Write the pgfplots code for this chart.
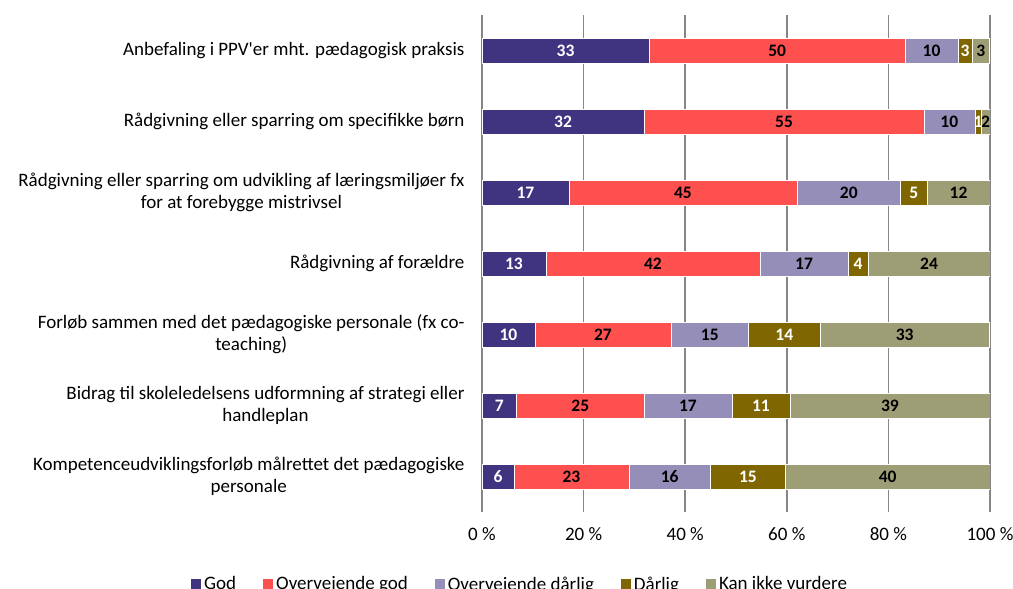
\documentclass[border=0pt]{standalone}
\usepackage{pgfplots}
\pgfplotsset{compat=1.18}
\usepackage{pgfplotstable}
\usepackage{fontspec}
\setmainfont{Carlito}

\definecolor{cgod}{RGB}{64,51,128}
\definecolor{covgod}{RGB}{255,80,80}
\definecolor{covdar}{RGB}{148,142,184}
\definecolor{cdar}{RGB}{127,102,0}
\definecolor{ckan}{RGB}{158,158,118}
\definecolor{cgrid}{RGB}{134,134,134}

% shares in percent, one row per category (top to bottom)
\pgfplotstableread{
row god ovgod ovdar darlig kan
1 32.9 50.4 10.4 2.8 3.4
2 31.9 55.1 10.0 1.3 1.7
3 17.1 44.9 20.4 5.2 12.4
4 12.6 42.1 17.4 3.9 24.0
5 10.4 26.8 15.3 14.0 33.4
6 6.8 25.1 17.3 11.4 39.4
7 6.3 22.6 16.1 14.7 40.3
}\datatable

\pgfplotsset{
  sq legend/.style={legend image code/.code={\fill[##1,draw=none] (0pt,-5pt) rectangle (10pt,5pt);}},
}

\begin{document}
\begin{tikzpicture}
\begin{axis}[
  name=ax,
  scale only axis,
  width=508pt, height=497pt,
  xbar stacked,
  bar width=25pt,
  xmin=0, xmax=100,
  ymin=0.5, ymax=7.5,
  y dir=reverse,
  axis y line*=left,
  axis x line*=bottom,
  x axis line style={draw=none},
  y axis line style={cgrid, line width=1.5pt},
  /pgf/number format/assume math mode=true,
  xtick={0,20,...,100},
  xticklabels={0 \%,20 \%,40 \%,60 \%,80 \%,100 \%},
  xtick style={draw=none},
  ytick={1,...,7},
  ytick style={draw=none},
  yticklabels={
    {Anbefaling i PPV\textquotesingle er mht. pædagogisk praksis},
    {Rådgivning eller sparring om specifikke børn},
    {Rådgivning eller sparring om udvikling af læringsmiljøer fx\\for at forebygge mistrivsel},
    {Rådgivning af forældre},
    {Forløb sammen med det pædagogiske personale (fx co-\\teaching)},
    {Bidrag til skoleledelsens udformning af strategi eller\\handleplan},
    {Kompetenceudviklingsforløb målrettet det pædagogiske\\personale}},
  yticklabel style={align=center, xshift=-14pt, font=\fontsize{19}{22}\selectfont},
  xticklabel style={yshift=-12pt, font=\fontsize{19}{22}\selectfont},
  xmajorgrids,
  major grid style={cgrid, line width=1.5pt},
  point meta=explicit,
  nodes near coords={\pgfmathprintnumber[fixed,precision=0]{\pgfplotspointmeta}},
  every node near coord/.append style={anchor=center,
    font=\fontsize{17.5}{20}\selectfont\bfseries},
  legend columns=5,
  legend style={at={(0.075,-0.145)}, anchor=center, draw=none,
    font=\fontsize{19}{22}\selectfont,
    /tikz/every even column/.append style={column sep=25pt},
    /tikz/every odd column/.append style={column sep=1pt}},
]
\addplot[fill=cgod, draw=white, line width=0.4pt, sq legend,
  every node near coord/.append style={text=white}]
  table[x=god, y=row, meta=god] {\datatable};
\addlegendentry{God}
\addplot[fill=covgod, draw=white, line width=0.4pt, sq legend,
  every node near coord/.append style={text=black}]
  table[x=ovgod, y=row, meta=ovgod] {\datatable};
\addlegendentry{Overvejende god}
\addplot[fill=covdar, draw=white, line width=0.4pt, sq legend,
  every node near coord/.append style={text=black}]
  table[x=ovdar, y=row, meta=ovdar] {\datatable};
\addlegendentry{Overvejende dårlig}
\addplot[fill=cdar, draw=white, line width=0.4pt, sq legend,
  every node near coord/.append style={text=white}]
  table[x=darlig, y=row, meta=darlig] {\datatable};
\addlegendentry{Dårlig}
\addplot[fill=ckan, draw=white, line width=0.4pt, sq legend,
  every node near coord/.append style={text=black}]
  table[x=kan, y=row, meta=kan] {\datatable};
\addlegendentry{Kan ikke vurdere}
\coordinate (bl) at (rel axis cs:0,0);
\end{axis}
\pgfresetboundingbox
\path[use as bounding box] ([shift={(-482pt,-77pt)}]bl) rectangle ([shift={(531pt,512pt)}]bl);
\end{tikzpicture}
\end{document}
